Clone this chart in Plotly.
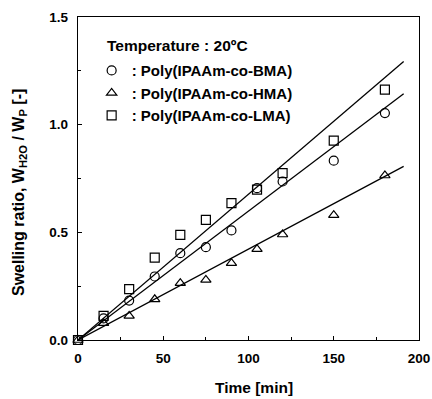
import plotly.graph_objects as go

time_min = [0, 15, 30, 45, 60, 75, 90, 105, 120, 150, 180]
bma = [0, 0.10, 0.183, 0.295, 0.403, 0.431, 0.509, 0.705, 0.736, 0.833, 1.054]
hma = [0, 0.078, 0.112, 0.189, 0.264, 0.279, 0.357, 0.422, 0.490, 0.580, 0.764]
lma = [0, 0.112, 0.236, 0.383, 0.488, 0.558, 0.636, 0.698, 0.775, 0.926, 1.163]

fit_x = [0, 191]
fit_bma = [0, 1.144]
fit_hma = [0, 0.806]
fit_lma = [0, 1.293]

legend_title = "Temperature : 20ºC"
names = [": Poly(IPAAm-co-BMA)", ": Poly(IPAAm-co-HMA)", ": Poly(IPAAm-co-LMA)"]
symbols = ["circle-open", "triangle-up-open", "square-open"]
x_title = "Time [min]"
y_title = "Swelling ratio, W<sub>H2O</sub> / W<sub>P</sub> [-]"

FAM = "Liberation Sans, Arial, sans-serif"

fig = go.Figure()
for fy in (fit_bma, fit_hma, fit_lma):
    fig.add_trace(go.Scatter(x=fit_x, y=fy, mode="lines",
                             line=dict(color="black", width=1.3), showlegend=False,
                             hoverinfo="skip"))
for ys, nm, sym in zip((bma, hma, lma), names, symbols):
    fig.add_trace(go.Scatter(x=time_min, y=ys, mode="markers", name=nm,
                             marker=dict(symbol=sym, size=9, color="black",
                                         line=dict(color="black", width=1.2)),
                             cliponaxis=False))

fig.add_annotation(text=legend_title, xref="paper", yref="paper",
                   x=0.079, y=0.913, xanchor="left", yanchor="middle",
                   showarrow=False,
                   font=dict(family=FAM, size=15.5, color="black", weight="bold"))
fig.add_annotation(text=y_title, xref="paper", yref="paper",
                   x=-0.173, y=0.455, xanchor="center", yanchor="middle",
                   textangle=-90, showarrow=False,
                   font=dict(family=FAM, size=16, color="black", weight="bold"))
fig.add_annotation(text=x_title, xref="paper", yref="paper",
                   x=0.516, y=-0.147, xanchor="center", yanchor="middle",
                   showarrow=False,
                   font=dict(family=FAM, size=15.5, color="black", weight="bold"))

fig.update_layout(
    width=432, height=399,
    margin=dict(l=78, r=13, t=17, b=59),
    paper_bgcolor="white", plot_bgcolor="white",
    font=dict(family=FAM, size=13, color="black"),
    showlegend=True,
    legend=dict(
        x=0.04, y=0.885, xanchor="left", yanchor="top",
        font=dict(family=FAM, size=15, color="black", weight="bold"),
        itemwidth=30,
        bgcolor="rgba(0,0,0,0)",
        tracegroupgap=0,
    ),
    xaxis=dict(
        range=[0, 200], tickmode="linear", tick0=0, dtick=50,
        ticks="inside", ticklen=4, tickcolor="black", tickwidth=1,
        showline=True, linecolor="black", linewidth=1.3, mirror=True,
        showgrid=False, zeroline=False, automargin=False,
        ticklabelstandoff=6,
        tickfont=dict(family=FAM, size=13.5, color="black", weight="bold"),
        minor=dict(dtick=25, ticks="inside", ticklen=3, tickcolor="black", showgrid=False),
    ),
    yaxis=dict(
        range=[0, 1.5], tickmode="linear", tick0=0, dtick=0.5, tickformat=".1f",
        ticks="inside", ticklen=4, tickcolor="black", tickwidth=1,
        showline=True, linecolor="black", linewidth=1.3, mirror=True,
        showgrid=False, zeroline=False, automargin=False,
        ticklabelstandoff=6,
        tickfont=dict(family=FAM, size=13.5, color="black", weight="bold"),
        minor=dict(dtick=0.25, ticks="inside", ticklen=3, tickcolor="black", showgrid=False),
    ),
)

fig.write_html("out.html")
